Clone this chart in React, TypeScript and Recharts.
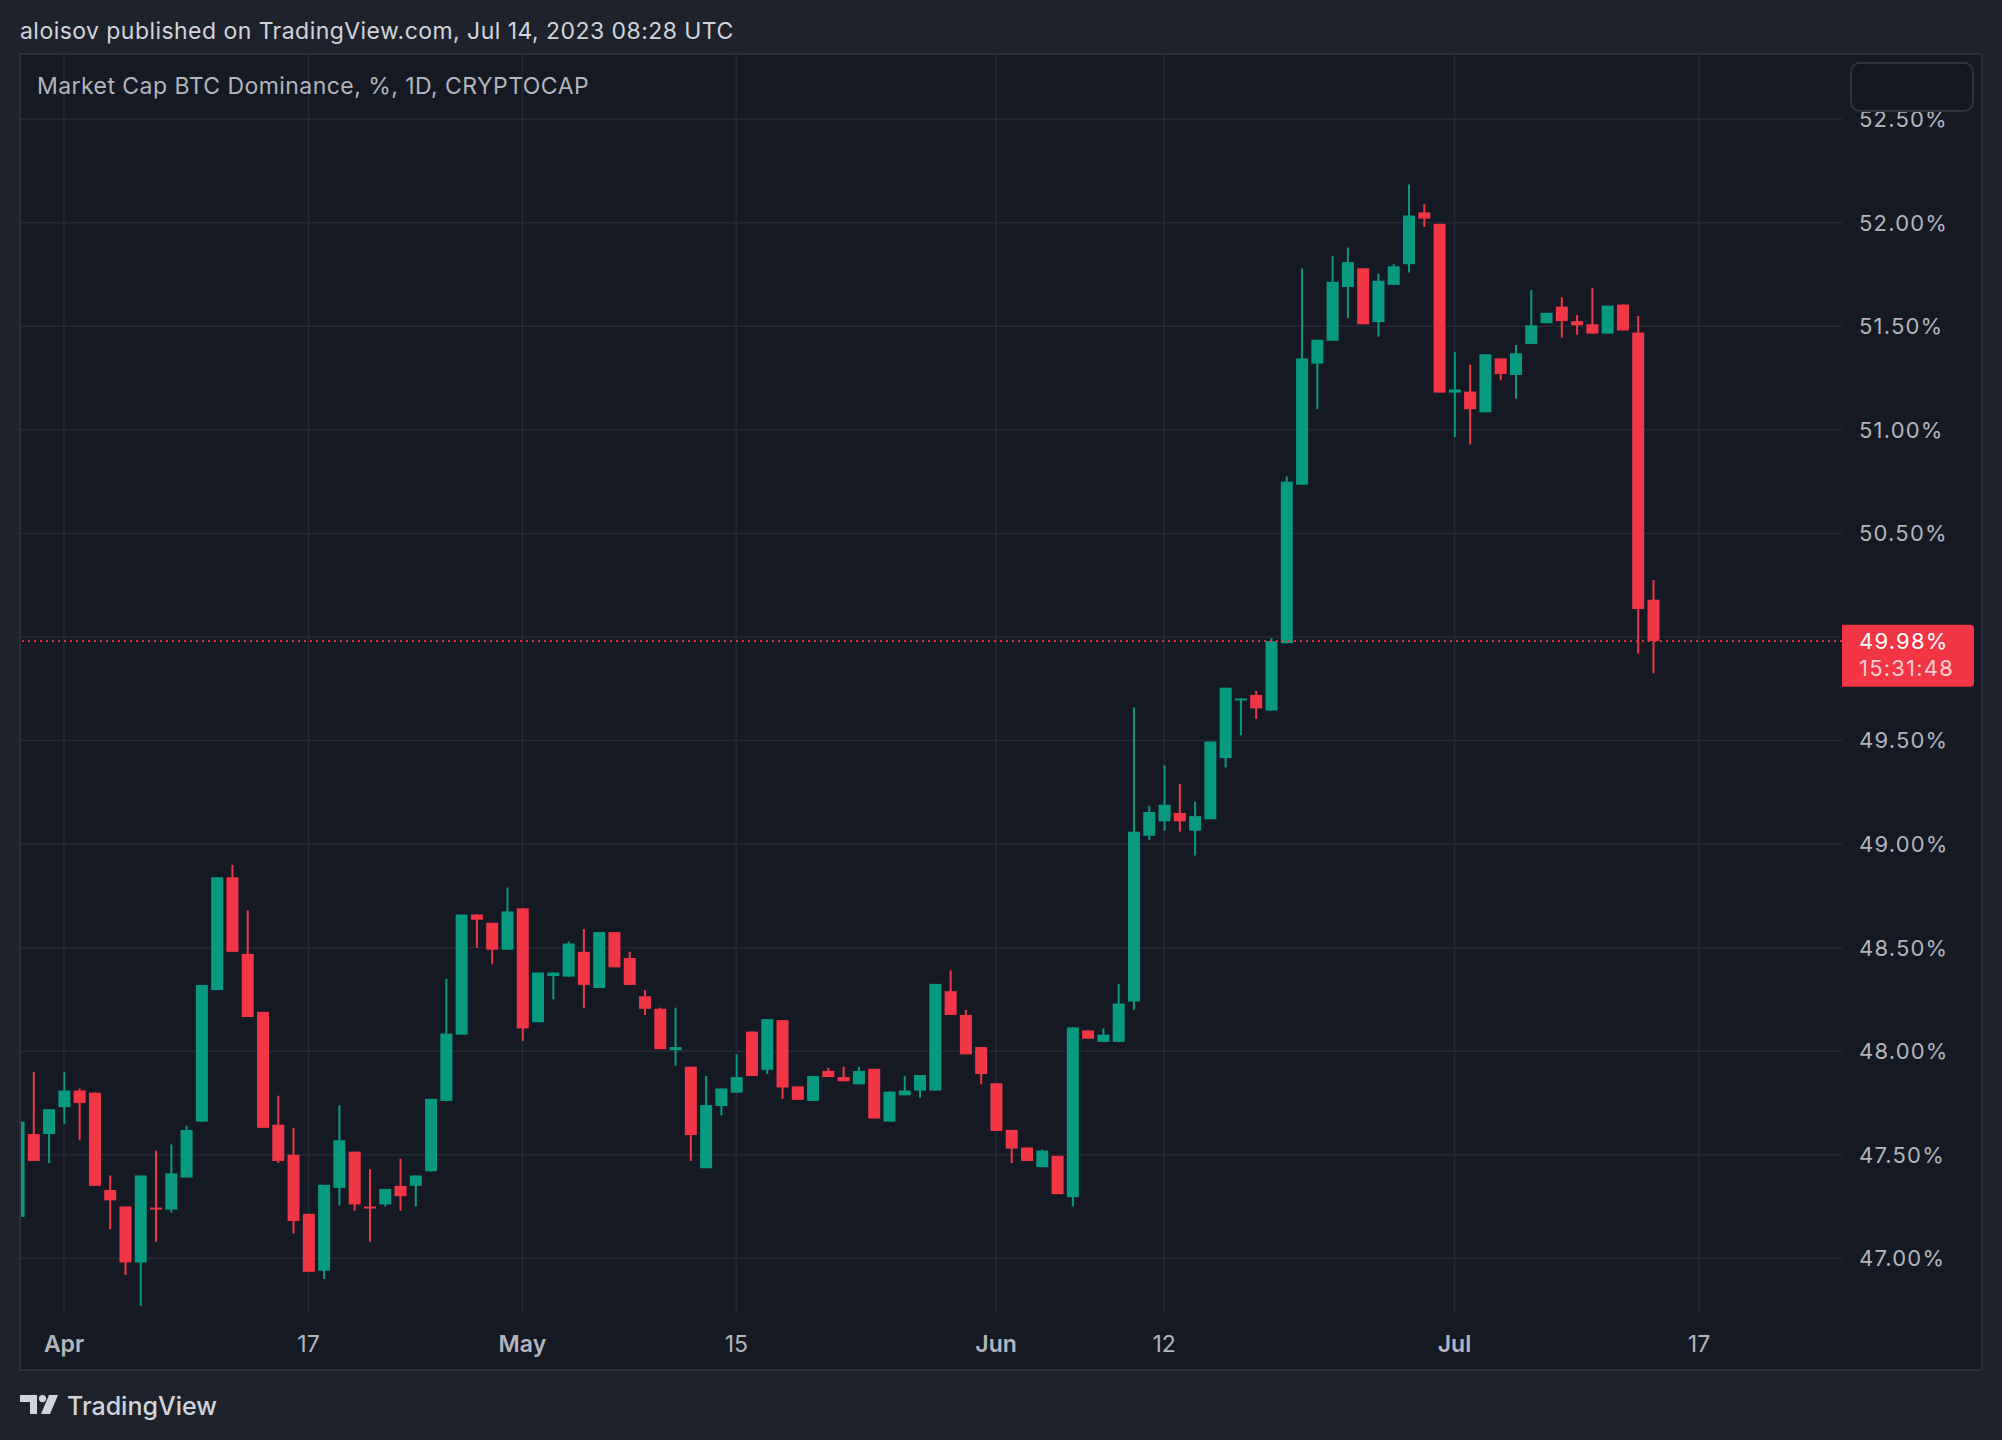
import React from 'react';
import {
  Bar,
  CartesianGrid,
  ComposedChart,
  ReferenceLine,
  XAxis,
  YAxis,
} from 'recharts';

// daily candles, index 0 = Mar 29 2023, last = Jul 14 2023
const opens = [
  47.2, 47.6, 47.6, 47.73, 47.81, 47.8, 47.33, 47.25, 46.98, 47.245,
  47.235, 47.39, 47.66, 48.295, 48.84, 48.47, 48.19, 47.645, 47.5, 47.215,
  46.94, 47.34, 47.515, 47.25, 47.26, 47.35, 47.35, 47.42, 47.76, 48.08,
  48.66, 48.62, 48.49, 48.69, 48.14, 48.363, 48.36, 48.48, 48.305, 48.575,
  48.45, 48.265, 48.205, 48.005, 47.925, 47.435, 47.735, 47.8, 48.095, 47.91,
  48.15, 47.83, 47.76, 47.905, 47.875, 47.84, 47.915, 47.66, 47.787, 47.81,
  47.81, 48.29, 48.175, 48.02, 47.845, 47.62, 47.535, 47.44, 47.495, 47.295,
  48.1, 48.045, 48.045, 48.24, 49.04, 49.11, 49.15, 49.065, 49.12, 49.415,
  49.697, 49.72, 49.645, 49.97, 50.735, 51.32, 51.43, 51.69, 51.78, 51.52,
  51.7, 51.8, 52.05, 51.995, 51.18, 51.185, 51.085, 51.345, 51.265, 51.415,
  51.515, 51.595, 51.525, 51.51, 51.465, 51.605, 51.47, 50.18,
];
const highs = [
  47.66, 47.9, 47.72, 47.9, 47.82, 47.8, 47.4, 47.25, 47.4, 47.52,
  47.55, 47.64, 48.32, 48.84, 48.9, 48.68, 48.19, 47.785, 47.63, 47.215,
  47.355, 47.74, 47.515, 47.43, 47.335, 47.48, 47.4, 47.77, 48.35, 48.66,
  48.66, 48.62, 48.79, 48.69, 48.38, 48.38, 48.53, 48.59, 48.575, 48.575,
  48.48, 48.295, 48.21, 48.21, 47.925, 47.88, 47.82, 47.985, 48.095, 48.155,
  48.15, 47.83, 47.88, 47.92, 47.925, 47.925, 47.915, 47.805, 47.88, 47.885,
  48.325, 48.39, 48.2, 48.02, 47.845, 47.62, 47.535, 47.525, 47.495, 48.115,
  48.1, 48.11, 48.325, 49.66, 49.185, 49.38, 49.29, 49.205, 49.495, 49.755,
  49.705, 49.74, 49.995, 50.775, 51.78, 51.435, 51.84, 51.88, 51.78, 51.755,
  51.8, 52.185, 52.09, 51.995, 51.375, 51.315, 51.365, 51.345, 51.41, 51.675,
  51.565, 51.64, 51.555, 51.685, 51.6, 51.605, 51.55, 50.275,
];
const lows = [
  47.2, 47.47, 47.46, 47.65, 47.57, 47.35, 47.14, 46.92, 46.77, 47.08,
  47.22, 47.39, 47.66, 48.295, 48.48, 48.165, 47.63, 47.46, 47.12, 46.935,
  46.9, 47.255, 47.23, 47.08, 47.25, 47.23, 47.25, 47.42, 47.76, 48.08,
  48.5, 48.42, 48.49, 48.05, 48.14, 48.25, 48.36, 48.21, 48.305, 48.405,
  48.32, 48.175, 48.01, 47.93, 47.47, 47.435, 47.69, 47.8, 47.88, 47.89,
  47.77, 47.765, 47.76, 47.875, 47.855, 47.84, 47.675, 47.66, 47.787, 47.775,
  47.81, 48.175, 47.985, 47.84, 47.615, 47.46, 47.47, 47.44, 47.31, 47.25,
  48.06, 48.045, 48.045, 48.2, 49.02, 49.065, 49.06, 48.945, 49.12, 49.37,
  49.525, 49.605, 49.645, 49.97, 50.735, 51.1, 51.43, 51.54, 51.51, 51.45,
  51.7, 51.76, 51.98, 51.18, 50.965, 50.93, 51.085, 51.24, 51.15, 51.415,
  51.515, 51.445, 51.46, 51.465, 51.465, 51.48, 49.92, 49.825,
];
const closes = [
  47.66, 47.47, 47.72, 47.81, 47.75, 47.35, 47.28, 46.98, 47.4, 47.24,
  47.41, 47.62, 48.32, 48.84, 48.48, 48.165, 47.63, 47.47, 47.18, 46.935,
  47.355, 47.57, 47.26, 47.245, 47.335, 47.3, 47.4, 47.77, 48.085, 48.66,
  48.635, 48.49, 48.675, 48.11, 48.38, 48.38, 48.52, 48.32, 48.575, 48.405,
  48.32, 48.205, 48.01, 48.02, 47.595, 47.74, 47.82, 47.875, 47.88, 48.155,
  47.825, 47.765, 47.88, 47.875, 47.855, 47.905, 47.675, 47.805, 47.81, 47.885,
  48.325, 48.175, 47.985, 47.89, 47.615, 47.53, 47.47, 47.52, 47.31, 48.115,
  48.06, 48.08, 48.23, 49.06, 49.155, 49.19, 49.11, 49.135, 49.495, 49.755,
  49.703, 49.655, 49.98, 50.75, 51.345, 51.435, 51.715, 51.81, 51.51, 51.72,
  51.79, 52.035, 52.02, 51.18, 51.195, 51.1, 51.365, 51.27, 51.37, 51.505,
  51.565, 51.525, 51.505, 51.465, 51.6, 51.48, 50.135, 49.98,
];

const priceTicks = [47, 47.5, 48, 48.5, 49, 49.5, 50, 50.5, 51, 51.5, 52, 52.5];
const dateTicks = [3, 19, 33, 47, 64, 75, 94, 110];
const dateLabels = ['Apr', '17', 'May', '15', 'Jun', '12', 'Jul', '17'];
const monthLabels = ['Apr', 'May', 'Jun', 'Jul'];

const lastPrice = 49.98;
const countdown = '15:31:48';

const candles = opens.map((o, i) => ({
  i,
  open: o,
  high: highs[i],
  low: lows[i],
  close: closes[i],
}));

const GREEN = '#089981';
const RED = '#f23645';
const FONT = 'Inter, "Noto Sans", sans-serif';

function Candle(props: any) {
  const { x, y, width, height, payload } = props;
  if (!payload) return null;
  const { open, close, high, low } = payload;
  const top = Math.min(y, y + height);
  const h = Math.abs(height);
  const ppu = h / (high - low || 1);
  const yOf = (v: number) => top + (high - v) * ppu;
  const color = close >= open ? GREEN : RED;
  const cx = x + width / 2;
  const bodyTop = yOf(Math.max(open, close));
  const bodyH = Math.max(2, Math.abs(yOf(open) - yOf(close)));
  return (
    <g>
      <rect x={cx - 1} y={top} width={2} height={h} fill={color} />
      <rect x={x} y={bodyTop} width={width} height={bodyH} fill={color} />
    </g>
  );
}

function DateTick(props: any) {
  const { x, y, payload } = props;
  const label = dateLabels[dateTicks.indexOf(payload.value)];
  const bold = monthLabels.includes(label);
  return (
    <text
      x={x}
      y={y + 31}
      dy="0.35em"
      textAnchor="middle"
      fill="#b2b5be"
      fontSize={23}
      fontWeight={bold ? 600 : 400}
      fontFamily={FONT}
    >
      {label}
    </text>
  );
}

function PriceTick(props: any) {
  const { x, y, payload } = props;
  // the last-price badge covers this level
  if (Math.abs(payload.value - 50) < 1e-6) return null;
  return (
    <text
      x={x}
      y={y}
      dy="0.36em"
      textAnchor="start"
      fill="#b2b5be"
      fontSize={22}
      letterSpacing={1.2}
      fontFamily={FONT}
    >
      {payload.value.toFixed(2) + '%'}
    </text>
  );
}

function LastPriceBadge(props: any) {
  const vb = props.viewBox;
  if (!vb) return null;
  const bx = vb.x + vb.width;
  const by = vb.y;
  return (
    <g>
      <path
        d={`M${bx},${by - 16.5} H${bx + 128} a4,4 0 0 1 4,4 V${by + 41.5} a4,4 0 0 1 -4,4 H${bx} Z`}
        fill={RED}
      />
      <text x={bx + 17} y={by} dy="0.36em" fill="#ffffff" fontSize={22} letterSpacing={1.2} fontFamily={FONT}>
        {lastPrice.toFixed(2) + '%'}
      </text>
      <text
        x={bx + 17}
        y={by + 27}
        dy="0.36em"
        fill="rgba(255,255,255,0.75)"
        fontSize={22}
        letterSpacing={1.2}
        fontFamily={FONT}
      >
        {countdown}
      </text>
    </g>
  );
}

function Logo() {
  return (
    <svg width={40} height={20} viewBox="0 0 40 20" style={{ position: 'absolute', left: 20, top: 1395 }}>
      <path d="M0 0 H17 V19 H10 V7 H0 Z" fill="#d1d4dc" />
      <circle cx={22.5} cy={3.6} r={3.6} fill="#d1d4dc" />
      <path d="M29 0 H38 L30 19 H21 Z" fill="#d1d4dc" />
    </svg>
  );
}

export default function App() {
  return (
    <div
      style={{
        position: 'absolute',
        left: 0,
        top: 0,
        width: 2002,
        height: 1440,
        background: '#1e222d',
        fontFamily: FONT,
        overflow: 'hidden',
      }}
    >
      <div
        style={{
          position: 'absolute',
          left: 20,
          top: 19,
          fontSize: 23,
          letterSpacing: 0.45,
          lineHeight: '24px',
          color: '#d1d4dc',
          whiteSpace: 'nowrap',
        }}
      >
        aloisov published on TradingView.com, Jul 14, 2023 08:28 UTC
      </div>

      <div
        style={{
          position: 'absolute',
          left: 19,
          top: 53,
          width: 1964,
          height: 1318,
          boxSizing: 'border-box',
          border: '2px solid #2a2e39',
          background: '#151924',
        }}
      />

      <div style={{ position: 'absolute', left: 21, top: 55 }}>
        <ComposedChart
          width={1960}
          height={1314}
          data={candles}
          margin={{ top: 0, right: 0, bottom: 0, left: 0 }}
        >
          <CartesianGrid stroke="#242834" strokeWidth={1.5} syncWithTicks />
          <XAxis
            dataKey="i"
            type="number"
            domain={[0.186, 119.36]}
            allowDataOverflow
            ticks={dateTicks}
            interval={0}
            height={56}
            axisLine={false}
            tickLine={false}
            tickSize={0}
            tickMargin={0}
            tick={<DateTick />}
          />
          <YAxis
            orientation="right"
            type="number"
            domain={[46.736, 52.81]}
            allowDataOverflow
            ticks={priceTicks}
            interval={0}
            width={139}
            axisLine={false}
            tickLine={false}
            tickSize={0}
            tickMargin={17}
            tick={<PriceTick />}
          />
          <ReferenceLine
            y={lastPrice}
            stroke={RED}
            strokeWidth={1.6}
            strokeDasharray="2 4"
            label={(p: any) => <LastPriceBadge {...p} />}
          />
          <Bar
            dataKey={(d: any) => [d.low, d.high]}
            barSize={12}
            shape={(p: any) => <Candle {...p} />}
            isAnimationActive={false}
          />
        </ComposedChart>
      </div>

      <div
        style={{
          position: 'absolute',
          left: 37,
          top: 74,
          fontSize: 23,
          letterSpacing: 0.45,
          lineHeight: '24px',
          color: '#b2b5be',
          whiteSpace: 'nowrap',
        }}
      >
        Market Cap BTC Dominance, %, 1D, CRYPTOCAP
      </div>

      <div
        style={{
          position: 'absolute',
          left: 1850,
          top: 62,
          width: 124,
          height: 50,
          boxSizing: 'border-box',
          border: '2px solid #2e323e',
          borderRadius: 10,
          background: '#131720',
        }}
      />

      <Logo />
      <div
        style={{
          position: 'absolute',
          left: 67,
          top: 1391,
          fontSize: 25,
          lineHeight: '30px',
          color: '#d1d4dc',
          fontWeight: 500,
          whiteSpace: 'nowrap',
        }}
      >
        TradingView
      </div>
    </div>
  );
}
